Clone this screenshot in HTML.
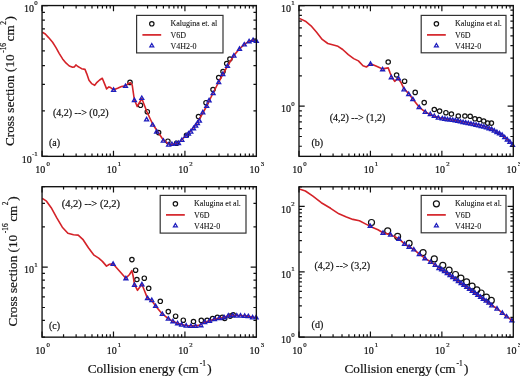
<!DOCTYPE html>
<html><head><meta charset="utf-8"><style>
html,body{margin:0;padding:0;background:#fff;}
svg{display:block;will-change:transform;}
text{font-family:"Liberation Serif",serif;fill:#111;stroke:#111;stroke-width:0.2px;}
</style></head><body>
<svg width="520" height="376" viewBox="0 0 520 376" font-family='"Liberation Serif", serif'>
<rect width="520" height="376" fill="#fff"/>
<circle cx="130" cy="82.4" r="2.2" fill="none" stroke="#111" stroke-width="1.2"/>
<circle cx="140.5" cy="105.3" r="2.2" fill="none" stroke="#111" stroke-width="1.2"/>
<circle cx="147.3" cy="111.7" r="2.2" fill="none" stroke="#111" stroke-width="1.2"/>
<circle cx="158.6" cy="132.6" r="2.2" fill="none" stroke="#111" stroke-width="1.2"/>
<circle cx="167.9" cy="141.2" r="2.2" fill="none" stroke="#111" stroke-width="1.2"/>
<circle cx="176.6" cy="143.2" r="2.2" fill="none" stroke="#111" stroke-width="1.2"/>
<circle cx="186.5" cy="135.2" r="2.2" fill="none" stroke="#111" stroke-width="1.2"/>
<circle cx="198.5" cy="116.6" r="2.2" fill="none" stroke="#111" stroke-width="1.2"/>
<circle cx="206" cy="102.7" r="2.2" fill="none" stroke="#111" stroke-width="1.2"/>
<circle cx="213" cy="89.5" r="2.2" fill="none" stroke="#111" stroke-width="1.2"/>
<circle cx="218.7" cy="77.6" r="2.2" fill="none" stroke="#111" stroke-width="1.2"/>
<circle cx="223" cy="71.5" r="2.2" fill="none" stroke="#111" stroke-width="1.2"/>
<circle cx="226.7" cy="63.5" r="2.2" fill="none" stroke="#111" stroke-width="1.2"/>
<circle cx="229.9" cy="59" r="2.2" fill="none" stroke="#111" stroke-width="1.2"/>
<path d="M42.40 32.30L45.30 34.00L48.60 37.60L52.60 42.30L56.00 47.60L59.30 53.60L62.60 58.90L65.90 62.90L69.30 66.00L72.60 67.30L74.30 66.90L75.90 64.90L77.90 66.50L79.90 67.60L81.60 68.70L85.00 69.40L86.70 73.60L89.00 80.30L91.60 83.60L94.70 85.30L97.00 82.30L99.60 80.00L102.30 78.30L104.50 83.60L106.60 88.90L108.90 86.90L110.60 87.60L113.60 89.80L117.60 88.20L121.50 86.50L125.50 85.90L128.20 83.60L130.20 82.60L132.20 84.90L134.30 99.50L137.20 106.50L141.80 98.50L147.00 112.00L152.60 124.00L158.00 132.00L163.30 140.00L168.60 144.00L172.00 144.30L176.00 143.60L180.00 141.50L183.00 138.50L186.00 135.50L190.00 131.50L194.00 127.00L198.00 121.50L202.80 113.00L206.70 106.00L209.10 101.00L213.10 93.00L218.70 82.00L223.00 74.00L227.50 66.00L233.90 55.50L239.50 48.80L244.30 44.40L249.10 41.20L253.10 40.00L256.30 40.80" fill="none" stroke="#d42228" stroke-width="1.6" stroke-linejoin="round"/>
<path d="M113.60 87.89L115.60 91.36L111.60 91.36ZM125.50 83.99L127.50 87.46L123.50 87.46ZM134.40 98.09L136.40 101.56L132.40 101.56ZM141.80 95.99L143.80 99.46L139.80 99.46ZM146.60 117.39L148.60 120.86L144.60 120.86ZM152.60 122.69L154.60 126.16L150.60 126.16ZM156.60 129.59L158.60 133.06L154.60 133.06ZM163.30 138.69L165.30 142.16L161.30 142.16ZM168.60 142.59L170.60 146.06L166.60 146.06ZM171.90 141.99L173.90 145.46L169.90 145.46ZM175.90 141.29L177.90 144.76L173.90 144.76ZM178.50 141.09L180.50 144.56L176.50 144.56ZM181.90 137.99L183.90 141.46L179.90 141.46ZM185.90 133.99L187.90 137.46L183.90 137.46ZM188.50 131.59L190.50 135.06L186.50 135.06ZM190.80 129.59L192.80 133.06L188.80 133.06ZM193.50 126.29L195.50 129.76L191.50 129.76ZM195.70 123.59L197.70 127.06L193.70 127.06ZM197.40 121.09L199.40 124.56L195.40 124.56ZM199.40 118.69L201.40 122.16L197.40 122.16ZM202.80 110.39L204.80 113.86L200.80 113.86ZM206.70 103.99L208.70 107.46L204.70 107.46ZM209.10 98.39L211.10 101.86L207.10 101.86ZM213.10 91.19L215.10 94.66L211.10 94.66ZM218.70 80.09L220.70 83.56L216.70 83.56ZM222.80 72.09L224.80 75.56L220.80 75.56ZM227.50 63.99L229.50 67.46L225.50 67.46ZM233.90 53.59L235.90 57.06L231.90 57.06ZM239.50 46.89L241.50 50.36L237.50 50.36ZM244.30 42.49L246.30 45.96L242.30 45.96ZM249.10 39.29L251.10 42.76L247.10 42.76ZM253.10 37.99L255.10 41.46L251.10 41.46ZM256.30 38.89L258.30 42.36L254.30 42.36Z" fill="none" stroke="#1e1ebe" stroke-width="1.3" stroke-linejoin="miter"/>
<rect x="42.05" y="5.55" width="214.30" height="150.80" fill="none" stroke="#111" stroke-width="1.35"/>
<path d="M42.05 156.35v-5.7M42.05 5.55v5.7M63.55 156.35v-2.9M63.55 5.55v2.9M76.13 156.35v-2.9M76.13 5.55v2.9M85.06 156.35v-2.9M85.06 5.55v2.9M91.98 156.35v-2.9M91.98 5.55v2.9M97.64 156.35v-2.9M97.64 5.55v2.9M102.42 156.35v-2.9M102.42 5.55v2.9M106.56 156.35v-2.9M106.56 5.55v2.9M110.21 156.35v-2.9M110.21 5.55v2.9M113.48 156.35v-5.7M113.48 5.55v5.7M134.99 156.35v-2.9M134.99 5.55v2.9M147.57 156.35v-2.9M147.57 5.55v2.9M156.49 156.35v-2.9M156.49 5.55v2.9M163.41 156.35v-2.9M163.41 5.55v2.9M169.07 156.35v-2.9M169.07 5.55v2.9M173.85 156.35v-2.9M173.85 5.55v2.9M177.99 156.35v-2.9M177.99 5.55v2.9M181.65 156.35v-2.9M181.65 5.55v2.9M184.92 156.35v-5.7M184.92 5.55v5.7M206.42 156.35v-2.9M206.42 5.55v2.9M219.00 156.35v-2.9M219.00 5.55v2.9M227.92 156.35v-2.9M227.92 5.55v2.9M234.85 156.35v-2.9M234.85 5.55v2.9M240.50 156.35v-2.9M240.50 5.55v2.9M245.28 156.35v-2.9M245.28 5.55v2.9M249.43 156.35v-2.9M249.43 5.55v2.9M253.08 156.35v-2.9M253.08 5.55v2.9M42.05 156.35h5.7M256.35 156.35h-5.7M42.05 110.95h2.9M256.35 110.95h-2.9M42.05 84.40h2.9M256.35 84.40h-2.9M42.05 65.56h2.9M256.35 65.56h-2.9M42.05 50.95h2.9M256.35 50.95h-2.9M42.05 39.00h2.9M256.35 39.00h-2.9M42.05 28.91h2.9M256.35 28.91h-2.9M42.05 20.16h2.9M256.35 20.16h-2.9M42.05 12.45h2.9M256.35 12.45h-2.9M42.05 5.55h5.7M256.35 5.55h-5.7" stroke="#111" stroke-width="1.2" fill="none"/>
<rect x="136.6" y="15.4" width="86.40" height="37.50" fill="#fff" stroke="#333" stroke-width="1.2"/>
<circle cx="151.80" cy="23.80" r="2.2" fill="none" stroke="#111" stroke-width="1.2"/>
<path d="M142.40 34.90H161.20" stroke="#d42228" stroke-width="1.7"/>
<path d="M151.80 43.49L153.80 46.96L149.80 46.96Z" fill="none" stroke="#1e1ebe" stroke-width="1.2"/>
<text font-size="8" fill="#111" style="stroke-width:0.08px"><tspan x="170.40" y="26.30">Kalugina et. al</tspan><tspan x="170.40" y="38.30">V6D</tspan><tspan x="170.40" y="48.80">V4H2-0</tspan></text>
<text x="52.9" y="116.19999999999999" font-size="10" fill="#111">(4,2) --&gt; (0,2)</text>
<text x="48.9" y="146.3" font-size="10" fill="#111">(a)</text>
<text x="42.55" y="173.05" text-anchor="middle" font-size="10.0">10<tspan font-size="6.8" dx="1.1" dy="-6.8">0</tspan></text>
<text x="113.98" y="173.05" text-anchor="middle" font-size="10.0">10<tspan font-size="6.8" dx="1.1" dy="-6.8">1</tspan></text>
<text x="185.42" y="173.05" text-anchor="middle" font-size="10.0">10<tspan font-size="6.8" dx="1.1" dy="-6.8">2</tspan></text>
<text x="256.85" y="173.05" text-anchor="middle" font-size="10.0">10<tspan font-size="6.8" dx="1.1" dy="-6.8">3</tspan></text>
<circle cx="388.2" cy="62" r="2.2" fill="none" stroke="#111" stroke-width="1.2"/>
<circle cx="396.6" cy="75" r="2.2" fill="none" stroke="#111" stroke-width="1.2"/>
<circle cx="404.6" cy="81.2" r="2.2" fill="none" stroke="#111" stroke-width="1.2"/>
<circle cx="415.2" cy="92.4" r="2.2" fill="none" stroke="#111" stroke-width="1.2"/>
<circle cx="424.2" cy="102.6" r="2.2" fill="none" stroke="#111" stroke-width="1.2"/>
<circle cx="434.3" cy="109.5" r="2.2" fill="none" stroke="#111" stroke-width="1.2"/>
<circle cx="439.6" cy="111.1" r="2.2" fill="none" stroke="#111" stroke-width="1.2"/>
<circle cx="445.9" cy="112.7" r="2.2" fill="none" stroke="#111" stroke-width="1.2"/>
<circle cx="451.4" cy="114" r="2.2" fill="none" stroke="#111" stroke-width="1.2"/>
<circle cx="458.3" cy="116" r="2.2" fill="none" stroke="#111" stroke-width="1.2"/>
<circle cx="464.9" cy="116" r="2.2" fill="none" stroke="#111" stroke-width="1.2"/>
<circle cx="470.2" cy="116.3" r="2.2" fill="none" stroke="#111" stroke-width="1.2"/>
<circle cx="474.9" cy="118.8" r="2.2" fill="none" stroke="#111" stroke-width="1.2"/>
<circle cx="479.2" cy="119.5" r="2.2" fill="none" stroke="#111" stroke-width="1.2"/>
<circle cx="483.7" cy="121" r="2.2" fill="none" stroke="#111" stroke-width="1.2"/>
<circle cx="487.7" cy="123.1" r="2.2" fill="none" stroke="#111" stroke-width="1.2"/>
<circle cx="491.4" cy="123.1" r="2.2" fill="none" stroke="#111" stroke-width="1.2"/>
<path d="M299.40 18.40L305.40 21.20L311.00 25.80L316.60 32.30L322.20 39.40L327.80 43.50L333.40 45.00L338.00 46.30L342.70 49.50L348.30 54.70L353.70 58.60L358.40 60.90L363.00 65.70L366.40 67.00L370.50 63.80L376.00 66.10L382.60 68.90L388.20 67.90L390.00 72.60L391.90 77.20L394.70 81.30L398.00 78.20L401.20 82.80L404.00 88.80L408.70 93.60L412.80 99.10L419.10 107.10L425.20 111.90L430.30 114.50L434.30 116.30L440.00 117.80L446.00 119.00L452.00 120.00L458.00 121.00L465.00 122.30L470.00 123.20L475.00 124.20L480.00 125.00L484.00 126.30L491.40 128.70L496.80 131.90L501.60 134.30L506.00 138.30L510.00 141.80L513.00 145.50" fill="none" stroke="#d42228" stroke-width="1.6" stroke-linejoin="round"/>
<path d="M370.50 61.89L372.50 65.36L368.50 65.36ZM382.60 67.29L384.60 70.76L380.60 70.76ZM391.30 75.29L393.30 78.76L389.30 78.76ZM398.40 76.29L400.40 79.76L396.40 79.76ZM404.00 87.39L406.00 90.86L402.00 90.86ZM408.70 92.09L410.70 95.56L406.70 95.56ZM412.80 97.19L414.80 100.66L410.80 100.66ZM419.10 105.19L421.10 108.66L417.10 108.66ZM425.20 109.99L427.20 113.46L423.20 113.46ZM430.30 112.09L432.30 115.56L428.30 115.56ZM434.30 113.99L436.30 117.46L432.30 117.46ZM438.30 115.59L440.30 119.06L436.30 119.06ZM442.30 116.39L444.30 119.86L440.30 119.86ZM444.90 116.91L446.90 120.38L442.90 120.38ZM447.50 117.32L449.50 120.79L445.50 120.79ZM450.10 117.60L452.10 121.06L448.10 121.06ZM452.70 117.94L454.70 121.41L450.70 121.41ZM455.30 118.32L457.30 121.79L453.30 121.79ZM457.90 118.85L459.90 122.32L455.90 122.32ZM460.50 119.47L462.50 122.93L458.50 122.93ZM463.10 120.07L465.10 123.53L461.10 123.53ZM465.70 120.62L467.70 124.09L463.70 124.09ZM468.30 121.17L470.30 124.63L466.30 124.63ZM470.90 121.69L472.90 125.16L468.90 125.16ZM473.50 122.21L475.50 125.68L471.50 125.68ZM476.10 122.78L478.10 126.25L474.10 126.25ZM478.70 123.40L480.70 126.87L476.70 126.87ZM481.30 124.02L483.30 127.49L479.30 127.49ZM483.90 124.66L485.90 128.12L481.90 128.12ZM486.50 125.47L488.50 128.93L484.50 128.93ZM489.10 126.28L491.10 129.74L487.10 129.74ZM491.70 127.16L493.70 130.63L489.70 130.63ZM494.30 128.61L496.30 132.07L492.30 132.07ZM496.90 130.04L498.90 133.51L494.90 133.51ZM499.50 131.34L501.50 134.81L497.50 134.81ZM502.10 132.85L504.10 136.31L500.10 136.31ZM504.70 135.21L506.70 138.68L502.70 138.68ZM507.30 137.53L509.30 141.00L505.30 141.00ZM509.90 139.81L511.90 143.27L507.90 143.27ZM512.50 142.86L514.50 146.32L510.50 146.32Z" fill="none" stroke="#1e1ebe" stroke-width="1.3" stroke-linejoin="miter"/>
<rect x="299.0" y="5.55" width="214.30" height="150.80" fill="none" stroke="#111" stroke-width="1.35"/>
<path d="M299.00 156.35v-5.7M299.00 5.55v5.7M320.50 156.35v-2.9M320.50 5.55v2.9M333.08 156.35v-2.9M333.08 5.55v2.9M342.01 156.35v-2.9M342.01 5.55v2.9M348.93 156.35v-2.9M348.93 5.55v2.9M354.59 156.35v-2.9M354.59 5.55v2.9M359.37 156.35v-2.9M359.37 5.55v2.9M363.51 156.35v-2.9M363.51 5.55v2.9M367.16 156.35v-2.9M367.16 5.55v2.9M370.43 156.35v-5.7M370.43 5.55v5.7M391.94 156.35v-2.9M391.94 5.55v2.9M404.52 156.35v-2.9M404.52 5.55v2.9M413.44 156.35v-2.9M413.44 5.55v2.9M420.36 156.35v-2.9M420.36 5.55v2.9M426.02 156.35v-2.9M426.02 5.55v2.9M430.80 156.35v-2.9M430.80 5.55v2.9M434.94 156.35v-2.9M434.94 5.55v2.9M438.60 156.35v-2.9M438.60 5.55v2.9M441.87 156.35v-5.7M441.87 5.55v5.7M463.37 156.35v-2.9M463.37 5.55v2.9M475.95 156.35v-2.9M475.95 5.55v2.9M484.87 156.35v-2.9M484.87 5.55v2.9M491.80 156.35v-2.9M491.80 5.55v2.9M497.45 156.35v-2.9M497.45 5.55v2.9M502.23 156.35v-2.9M502.23 5.55v2.9M506.38 156.35v-2.9M506.38 5.55v2.9M510.03 156.35v-2.9M510.03 5.55v2.9M299.00 146.25h2.9M513.30 146.25h-2.9M299.00 136.50h2.9M513.30 136.50h-2.9M299.00 128.53h2.9M513.30 128.53h-2.9M299.00 121.79h2.9M513.30 121.79h-2.9M299.00 115.95h2.9M513.30 115.95h-2.9M299.00 110.81h2.9M513.30 110.81h-2.9M299.00 106.20h5.7M513.30 106.20h-5.7M299.00 75.90h2.9M513.30 75.90h-2.9M299.00 58.18h2.9M513.30 58.18h-2.9M299.00 45.60h2.9M513.30 45.60h-2.9M299.00 35.85h2.9M513.30 35.85h-2.9M299.00 27.88h2.9M513.30 27.88h-2.9M299.00 21.14h2.9M513.30 21.14h-2.9M299.00 15.30h2.9M513.30 15.30h-2.9M299.00 10.16h2.9M513.30 10.16h-2.9M299.00 5.55h5.7M513.30 5.55h-5.7" stroke="#111" stroke-width="1.2" fill="none"/>
<rect x="421.2" y="15.4" width="84.80" height="37.40" fill="#fff" stroke="#333" stroke-width="1.2"/>
<circle cx="436.40" cy="23.80" r="2.2" fill="none" stroke="#111" stroke-width="1.2"/>
<path d="M427.00 34.90H445.80" stroke="#d42228" stroke-width="1.7"/>
<path d="M436.40 43.49L438.40 46.96L434.40 46.96Z" fill="none" stroke="#1e1ebe" stroke-width="1.2"/>
<text font-size="8" fill="#111" style="stroke-width:0.08px"><tspan x="455.00" y="26.30">Kalugina et al.</tspan><tspan x="455.00" y="38.30">V6D</tspan><tspan x="455.00" y="48.80">V4H2-0</tspan></text>
<text x="329.7" y="121.19999999999999" font-size="10" fill="#111">(4,2) --&gt; (1,2)</text>
<text x="311.5" y="146.3" font-size="10" fill="#111">(b)</text>
<text x="299.50" y="173.05" text-anchor="middle" font-size="10.0">10<tspan font-size="6.8" dx="1.1" dy="-6.8">0</tspan></text>
<text x="370.93" y="173.05" text-anchor="middle" font-size="10.0">10<tspan font-size="6.8" dx="1.1" dy="-6.8">1</tspan></text>
<text x="442.37" y="173.05" text-anchor="middle" font-size="10.0">10<tspan font-size="6.8" dx="1.1" dy="-6.8">2</tspan></text>
<text x="513.80" y="173.05" text-anchor="middle" font-size="10.0">10<tspan font-size="6.8" dx="1.1" dy="-6.8">3</tspan></text>
<circle cx="131.9" cy="259.6" r="2.2" fill="none" stroke="#111" stroke-width="1.2"/>
<circle cx="135.6" cy="270.2" r="2.2" fill="none" stroke="#111" stroke-width="1.2"/>
<circle cx="136.9" cy="279.5" r="2.2" fill="none" stroke="#111" stroke-width="1.2"/>
<circle cx="144.3" cy="278.2" r="2.2" fill="none" stroke="#111" stroke-width="1.2"/>
<circle cx="148.7" cy="288.3" r="2.2" fill="none" stroke="#111" stroke-width="1.2"/>
<circle cx="160.3" cy="301.3" r="2.2" fill="none" stroke="#111" stroke-width="1.2"/>
<circle cx="168.3" cy="311.6" r="2.2" fill="none" stroke="#111" stroke-width="1.2"/>
<circle cx="175.6" cy="316.2" r="2.2" fill="none" stroke="#111" stroke-width="1.2"/>
<circle cx="183.3" cy="320.2" r="2.2" fill="none" stroke="#111" stroke-width="1.2"/>
<circle cx="193.5" cy="321.5" r="2.2" fill="none" stroke="#111" stroke-width="1.2"/>
<circle cx="201.3" cy="320.4" r="2.2" fill="none" stroke="#111" stroke-width="1.2"/>
<circle cx="207.1" cy="320.3" r="2.2" fill="none" stroke="#111" stroke-width="1.2"/>
<circle cx="212.6" cy="318.5" r="2.2" fill="none" stroke="#111" stroke-width="1.2"/>
<circle cx="217.4" cy="317.3" r="2.2" fill="none" stroke="#111" stroke-width="1.2"/>
<circle cx="222.3" cy="317.3" r="2.2" fill="none" stroke="#111" stroke-width="1.2"/>
<circle cx="224.7" cy="318.5" r="2.2" fill="none" stroke="#111" stroke-width="1.2"/>
<circle cx="230.2" cy="316.1" r="2.2" fill="none" stroke="#111" stroke-width="1.2"/>
<circle cx="233.2" cy="314.8" r="2.2" fill="none" stroke="#111" stroke-width="1.2"/>
<path d="M42.30 198.40L46.50 201.20L51.20 207.70L56.80 217.90L62.30 227.20L67.90 233.20L73.50 234.70L78.20 235.10L82.80 239.30L88.40 247.70L94.00 255.20L98.70 258.20L102.40 261.40L106.50 266.10L109.50 264.20L113.00 263.80L119.20 270.70L125.80 278.20L129.50 274.50L131.90 270.70L133.20 276.30L134.50 284.50L137.50 290.30L141.90 284.30L144.30 290.30L147.30 297.90L152.00 301.00L155.60 305.90L162.30 313.90L168.30 318.60L172.90 321.20L177.60 323.20L181.60 324.50L186.20 325.50L190.90 325.90L195.50 325.90L200.00 325.00L204.70 322.10L209.50 320.90L214.40 319.10L219.20 318.10L224.10 317.30L228.30 315.80L232.60 315.30L236.80 315.50L240.50 315.50L244.70 315.70L248.30 316.10L252.60 317.30L256.10 317.50" fill="none" stroke="#d42228" stroke-width="1.6" stroke-linejoin="round"/>
<path d="M113.10 261.89L115.10 265.36L111.10 265.36ZM125.90 276.29L127.90 279.76L123.90 279.76ZM134.50 282.79L136.50 286.26L132.50 286.26ZM141.90 282.39L143.90 285.86L139.90 285.86ZM147.50 296.19L149.50 299.66L145.50 299.66ZM151.80 298.09L153.80 301.56L149.80 301.56ZM155.60 303.99L157.60 307.46L153.60 307.46ZM162.30 311.99L164.30 315.46L160.30 315.46ZM168.30 316.69L170.30 320.16L166.30 320.16ZM172.90 319.29L174.90 322.76L170.90 322.76ZM177.60 321.29L179.60 324.76L175.60 324.76ZM181.60 322.59L183.60 326.06L179.60 326.06ZM186.20 323.59L188.20 327.06L184.20 327.06ZM190.90 323.99L192.90 327.46L188.90 327.46ZM195.50 323.99L197.50 327.46L193.50 327.46ZM200.90 323.29L202.90 326.76L198.90 326.76ZM204.70 320.19L206.70 323.66L202.70 323.66ZM209.50 318.99L211.50 322.46L207.50 322.46ZM214.40 317.19L216.40 320.66L212.40 320.66ZM219.20 316.19L221.20 319.66L217.20 319.66ZM224.10 315.39L226.10 318.86L222.10 318.86ZM228.30 313.59L230.30 317.06L226.30 317.06ZM232.60 313.19L234.60 316.66L230.60 316.66ZM236.80 313.59L238.80 317.06L234.80 317.06ZM240.50 313.59L242.50 317.06L238.50 317.06ZM244.70 313.79L246.70 317.26L242.70 317.26ZM248.30 314.19L250.30 317.66L246.30 317.66ZM252.60 315.39L254.60 318.86L250.60 318.86ZM256.10 315.39L258.10 318.86L254.10 318.86Z" fill="none" stroke="#1e1ebe" stroke-width="1.3" stroke-linejoin="miter"/>
<rect x="42.05" y="186.7" width="214.30" height="150.45" fill="none" stroke="#111" stroke-width="1.35"/>
<path d="M42.05 337.15v-5.7M42.05 186.70v5.7M63.55 337.15v-2.9M63.55 186.70v2.9M76.13 337.15v-2.9M76.13 186.70v2.9M85.06 337.15v-2.9M85.06 186.70v2.9M91.98 337.15v-2.9M91.98 186.70v2.9M97.64 337.15v-2.9M97.64 186.70v2.9M102.42 337.15v-2.9M102.42 186.70v2.9M106.56 337.15v-2.9M106.56 186.70v2.9M110.21 337.15v-2.9M110.21 186.70v2.9M113.48 337.15v-5.7M113.48 186.70v5.7M134.99 337.15v-2.9M134.99 186.70v2.9M147.57 337.15v-2.9M147.57 186.70v2.9M156.49 337.15v-2.9M156.49 186.70v2.9M163.41 337.15v-2.9M163.41 186.70v2.9M169.07 337.15v-2.9M169.07 186.70v2.9M173.85 337.15v-2.9M173.85 186.70v2.9M177.99 337.15v-2.9M177.99 186.70v2.9M181.65 337.15v-2.9M181.65 186.70v2.9M184.92 337.15v-5.7M184.92 186.70v5.7M206.42 337.15v-2.9M206.42 186.70v2.9M219.00 337.15v-2.9M219.00 186.70v2.9M227.92 337.15v-2.9M227.92 186.70v2.9M234.85 337.15v-2.9M234.85 186.70v2.9M240.50 337.15v-2.9M240.50 186.70v2.9M245.28 337.15v-2.9M245.28 186.70v2.9M249.43 337.15v-2.9M249.43 186.70v2.9M253.08 337.15v-2.9M253.08 186.70v2.9M42.05 337.15h2.9M256.35 337.15h-2.9M42.05 320.44h2.9M256.35 320.44h-2.9M42.05 307.48h2.9M256.35 307.48h-2.9M42.05 296.89h2.9M256.35 296.89h-2.9M42.05 287.94h2.9M256.35 287.94h-2.9M42.05 280.18h2.9M256.35 280.18h-2.9M42.05 273.34h2.9M256.35 273.34h-2.9M42.05 267.22h5.7M256.35 267.22h-5.7M42.05 226.96h2.9M256.35 226.96h-2.9M42.05 203.41h2.9M256.35 203.41h-2.9M42.05 186.70h2.9M256.35 186.70h-2.9" stroke="#111" stroke-width="1.2" fill="none"/>
<rect x="160.2" y="195.4" width="85.80" height="37.70" fill="#fff" stroke="#333" stroke-width="1.2"/>
<circle cx="175.40" cy="203.80" r="2.2" fill="none" stroke="#111" stroke-width="1.2"/>
<path d="M166.00 214.90H184.80" stroke="#d42228" stroke-width="1.7"/>
<path d="M175.40 223.49L177.40 226.96L173.40 226.96Z" fill="none" stroke="#1e1ebe" stroke-width="1.2"/>
<text font-size="8" fill="#111" style="stroke-width:0.08px"><tspan x="194.00" y="206.30">Kalugina et al.</tspan><tspan x="194.00" y="218.30">V6D</tspan><tspan x="194.00" y="228.80">V4H2-0</tspan></text>
<text x="61.7" y="206.6" font-size="10" fill="#111" textLength="58.3" lengthAdjust="spacingAndGlyphs">(4,2) --&gt; (2,2)</text>
<text x="49.0" y="328.7" font-size="10" fill="#111">(c)</text>
<text x="42.55" y="353.85" text-anchor="middle" font-size="10.0">10<tspan font-size="6.8" dx="1.1" dy="-6.8">0</tspan></text>
<text x="113.98" y="353.85" text-anchor="middle" font-size="10.0">10<tspan font-size="6.8" dx="1.1" dy="-6.8">1</tspan></text>
<text x="185.42" y="353.85" text-anchor="middle" font-size="10.0">10<tspan font-size="6.8" dx="1.1" dy="-6.8">2</tspan></text>
<text x="256.85" y="353.85" text-anchor="middle" font-size="10.0">10<tspan font-size="6.8" dx="1.1" dy="-6.8">3</tspan></text>
<circle cx="371.5" cy="222.5" r="3.0" fill="none" stroke="#111" stroke-width="1.2"/>
<circle cx="387.7" cy="230.8" r="3.0" fill="none" stroke="#111" stroke-width="1.2"/>
<circle cx="397.6" cy="236.4" r="3.0" fill="none" stroke="#111" stroke-width="1.2"/>
<circle cx="409.1" cy="243.3" r="3.0" fill="none" stroke="#111" stroke-width="1.2"/>
<circle cx="423.1" cy="252.6" r="3.0" fill="none" stroke="#111" stroke-width="1.2"/>
<circle cx="434.3" cy="258.9" r="3.0" fill="none" stroke="#111" stroke-width="1.2"/>
<circle cx="442.8" cy="265.3" r="3.0" fill="none" stroke="#111" stroke-width="1.2"/>
<circle cx="449.1" cy="270.2" r="3.0" fill="none" stroke="#111" stroke-width="1.2"/>
<circle cx="455.5" cy="274.5" r="3.0" fill="none" stroke="#111" stroke-width="1.2"/>
<circle cx="460.9" cy="278.1" r="3.0" fill="none" stroke="#111" stroke-width="1.2"/>
<circle cx="466.6" cy="281.9" r="3.0" fill="none" stroke="#111" stroke-width="1.2"/>
<circle cx="472.1" cy="286.2" r="3.0" fill="none" stroke="#111" stroke-width="1.2"/>
<circle cx="476.8" cy="289.8" r="3.0" fill="none" stroke="#111" stroke-width="1.2"/>
<circle cx="481.1" cy="293" r="3.0" fill="none" stroke="#111" stroke-width="1.2"/>
<circle cx="486.4" cy="297.2" r="3.0" fill="none" stroke="#111" stroke-width="1.2"/>
<circle cx="491.3" cy="300.4" r="3.0" fill="none" stroke="#111" stroke-width="1.2"/>
<path d="M299.30 189.10L305.40 191.00L312.90 196.20L321.30 202.70L330.60 208.30L338.90 213.80L346.40 217.00L352.90 219.40L359.40 220.70L365.90 224.10L371.50 226.90L378.00 229.70L383.00 232.70L390.50 234.60L398.90 238.80L404.50 243.90L409.10 246.70L413.80 249.40L419.30 254.10L424.90 258.20L430.50 261.90L435.20 264.90L438.90 268.00L491.70 305.30L497.00 308.50L502.30 312.80L506.60 316.40L513.00 321.00" fill="none" stroke="#d42228" stroke-width="1.6" stroke-linejoin="round"/>
<path d="M370.20 223.99L372.20 227.46L368.20 227.46ZM383.00 230.79L385.00 234.26L381.00 234.26ZM390.50 232.69L392.50 236.16L388.50 236.16ZM398.90 236.89L400.90 240.36L396.90 240.36ZM404.50 241.99L406.50 245.46L402.50 245.46ZM409.10 244.79L411.10 248.26L407.10 248.26ZM413.80 247.49L415.80 250.96L411.80 250.96ZM419.30 252.19L421.30 255.66L417.30 255.66ZM424.90 256.29L426.90 259.76L422.90 259.76ZM430.50 259.99L432.50 263.46L428.50 263.46ZM435.20 262.99L437.20 266.46L433.20 266.46ZM438.90 266.09L440.90 269.56L436.90 269.56ZM441.68 267.26L443.68 270.73L439.68 270.73ZM444.46 269.23L446.46 272.70L442.46 272.70ZM447.24 271.20L449.24 274.66L445.24 274.66ZM450.02 273.17L452.02 276.63L448.02 276.63ZM452.79 275.14L454.79 278.60L450.79 278.60ZM455.57 277.11L457.57 280.57L453.57 280.57ZM458.35 279.07L460.35 282.54L456.35 282.54ZM461.13 281.04L463.13 284.51L459.13 284.51ZM463.91 283.01L465.91 286.47L461.91 286.47ZM466.69 284.98L468.69 288.44L464.69 288.44ZM469.47 286.95L471.47 290.41L467.47 290.41ZM472.25 288.92L474.25 292.38L470.25 292.38ZM475.03 290.88L477.03 294.35L473.03 294.35ZM477.81 292.85L479.81 296.32L475.81 296.32ZM480.58 294.82L482.58 298.29L478.58 298.29ZM483.36 296.79L485.36 300.25L481.36 300.25ZM486.14 298.76L488.14 302.22L484.14 302.22ZM488.92 300.73L490.92 304.19L486.92 304.19ZM491.70 303.39L493.70 306.86L489.70 306.86ZM497.00 306.59L499.00 310.06L495.00 310.06ZM502.30 310.89L504.30 314.36L500.30 314.36ZM506.60 314.49L508.60 317.96L504.60 317.96ZM511.90 318.29L513.90 321.76L509.90 321.76Z" fill="none" stroke="#1e1ebe" stroke-width="1.3" stroke-linejoin="miter"/>
<rect x="299.0" y="186.8" width="214.30" height="150.30" fill="none" stroke="#111" stroke-width="1.35"/>
<path d="M299.00 337.10v-5.7M299.00 186.80v5.7M320.50 337.10v-2.9M320.50 186.80v2.9M333.08 337.10v-2.9M333.08 186.80v2.9M342.01 337.10v-2.9M342.01 186.80v2.9M348.93 337.10v-2.9M348.93 186.80v2.9M354.59 337.10v-2.9M354.59 186.80v2.9M359.37 337.10v-2.9M359.37 186.80v2.9M363.51 337.10v-2.9M363.51 186.80v2.9M367.16 337.10v-2.9M367.16 186.80v2.9M370.43 337.10v-5.7M370.43 186.80v5.7M391.94 337.10v-2.9M391.94 186.80v2.9M404.52 337.10v-2.9M404.52 186.80v2.9M413.44 337.10v-2.9M413.44 186.80v2.9M420.36 337.10v-2.9M420.36 186.80v2.9M426.02 337.10v-2.9M426.02 186.80v2.9M430.80 337.10v-2.9M430.80 186.80v2.9M434.94 337.10v-2.9M434.94 186.80v2.9M438.60 337.10v-2.9M438.60 186.80v2.9M441.87 337.10v-5.7M441.87 186.80v5.7M463.37 337.10v-2.9M463.37 186.80v2.9M475.95 337.10v-2.9M475.95 186.80v2.9M484.87 337.10v-2.9M484.87 186.80v2.9M491.80 337.10v-2.9M491.80 186.80v2.9M497.45 337.10v-2.9M497.45 186.80v2.9M502.23 337.10v-2.9M502.23 186.80v2.9M506.38 337.10v-2.9M506.38 186.80v2.9M510.03 337.10v-2.9M510.03 186.80v2.9M299.00 337.10h5.7M513.30 337.10h-5.7M299.00 317.44h2.9M513.30 317.44h-2.9M299.00 305.94h2.9M513.30 305.94h-2.9M299.00 297.77h2.9M513.30 297.77h-2.9M299.00 291.44h2.9M513.30 291.44h-2.9M299.00 286.27h2.9M513.30 286.27h-2.9M299.00 281.90h2.9M513.30 281.90h-2.9M299.00 278.11h2.9M513.30 278.11h-2.9M299.00 274.77h2.9M513.30 274.77h-2.9M299.00 271.78h5.7M513.30 271.78h-5.7M299.00 252.12h2.9M513.30 252.12h-2.9M299.00 240.62h2.9M513.30 240.62h-2.9M299.00 232.46h2.9M513.30 232.46h-2.9M299.00 226.13h2.9M513.30 226.13h-2.9M299.00 220.95h2.9M513.30 220.95h-2.9M299.00 216.58h2.9M513.30 216.58h-2.9M299.00 212.79h2.9M513.30 212.79h-2.9M299.00 209.45h2.9M513.30 209.45h-2.9M299.00 206.46h5.7M513.30 206.46h-5.7M299.00 186.80h2.9M513.30 186.80h-2.9" stroke="#111" stroke-width="1.2" fill="none"/>
<rect x="421.2" y="195.4" width="84.80" height="37.40" fill="#fff" stroke="#333" stroke-width="1.2"/>
<circle cx="436.40" cy="203.80" r="3.0" fill="none" stroke="#111" stroke-width="1.2"/>
<path d="M427.00 214.90H445.80" stroke="#d42228" stroke-width="1.7"/>
<path d="M436.40 223.49L438.40 226.96L434.40 226.96Z" fill="none" stroke="#1e1ebe" stroke-width="1.2"/>
<text font-size="8" fill="#111" style="stroke-width:0.08px"><tspan x="455.00" y="206.30">Kalugina et al.</tspan><tspan x="455.00" y="218.30">V6D</tspan><tspan x="455.00" y="228.80">V4H2-0</tspan></text>
<text x="314.4" y="268.6" font-size="10" fill="#111">(4,2) --&gt; (3,2)</text>
<text x="311.6" y="328.3" font-size="10" fill="#111">(d)</text>
<text x="299.50" y="353.80" text-anchor="middle" font-size="10.0">10<tspan font-size="6.8" dx="1.1" dy="-6.8">0</tspan></text>
<text x="370.93" y="353.80" text-anchor="middle" font-size="10.0">10<tspan font-size="6.8" dx="1.1" dy="-6.8">1</tspan></text>
<text x="442.37" y="353.80" text-anchor="middle" font-size="10.0">10<tspan font-size="6.8" dx="1.1" dy="-6.8">2</tspan></text>
<text x="513.80" y="353.80" text-anchor="middle" font-size="10.0">10<tspan font-size="6.8" dx="1.1" dy="-6.8">3</tspan></text>
<text x="37.65" y="11.75" text-anchor="end" font-size="10.0">10<tspan font-size="6.8" dx="0.2" dy="-6.8">0</tspan></text>
<text x="37.65" y="162.55" text-anchor="end" font-size="10.0">10<tspan font-size="6.8" dx="0.2" dy="-6.8">-1</tspan></text>
<text x="294.60" y="11.75" text-anchor="end" font-size="10.0">10<tspan font-size="6.8" dx="0.2" dy="-6.8">1</tspan></text>
<text x="294.60" y="112.40" text-anchor="end" font-size="10.0">10<tspan font-size="6.8" dx="0.2" dy="-6.8">0</tspan></text>
<text x="37.65" y="273.42" text-anchor="end" font-size="10.0">10<tspan font-size="6.8" dx="0.2" dy="-6.8">1</tspan></text>
<text x="294.60" y="212.66" text-anchor="end" font-size="10.0">10<tspan font-size="6.8" dx="0.2" dy="-6.8">2</tspan></text>
<text x="294.60" y="277.98" text-anchor="end" font-size="10.0">10<tspan font-size="6.8" dx="0.2" dy="-6.8">1</tspan></text>
<text x="294.60" y="343.30" text-anchor="end" font-size="10.0">10<tspan font-size="6.8" dx="0.2" dy="-6.8">0</tspan></text>
<text x="87.7" y="373.0" font-size="13.2" fill="#111">Collision energy (cm<tspan font-size="7.4" dx="0.9" dy="-7.0">-1</tspan><tspan dx="1.4" dy="7.0">)</tspan></text>
<text x="344.5" y="373.0" font-size="13.2" fill="#111">Collision energy (cm<tspan font-size="7.4" dx="0.9" dy="-7.0">-1</tspan><tspan dx="1.4" dy="7.0">)</tspan></text>
<text transform="translate(14.4 146.0) rotate(-90)" x="0" y="0" font-size="13.2" fill="#111">Cross section (10<tspan font-size="7.4" dx="1.6" dy="-8.8">-16</tspan><tspan dx="1.6" dy="8.8">cm</tspan><tspan font-size="7.4" dx="0.5" dy="-8.8">2</tspan><tspan dx="0.6" dy="8.8">)</tspan></text>
<text transform="translate(17.0 326.4) rotate(-90)" x="0" y="0" font-size="13.2" fill="#111">Cross section (10<tspan font-size="7.4" dx="1.6" dy="-8.8">-16</tspan><tspan dx="1.6" dy="8.8">cm</tspan><tspan font-size="7.4" dx="0.5" dy="-8.8">2</tspan><tspan dx="0.6" dy="8.8">)</tspan></text>
</svg>
</body></html>
